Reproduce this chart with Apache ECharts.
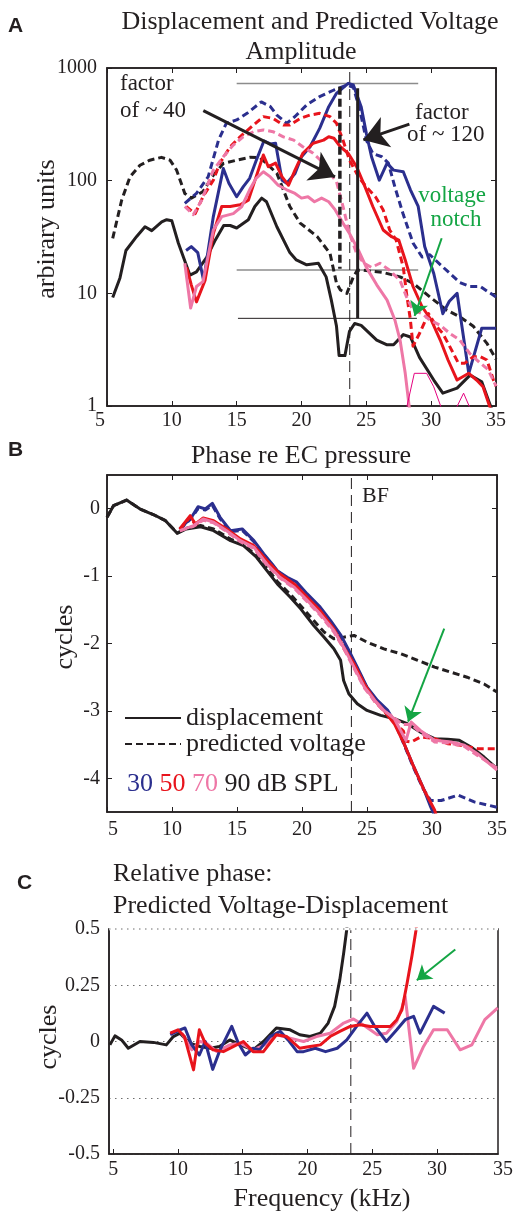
<!DOCTYPE html>
<html><head><meta charset="utf-8">
<script src="https://cdn.jsdelivr.net/npm/echarts@6/dist/echarts.min.js"></script>
<style>html,body{margin:0;padding:0;background:#fff}#c{width:514px;height:1214px}</style>
</head><body><div id="c"></div>
<script>
// ---------- DATA ----------
const xTicksAB = [5, 10, 15, 20, 25, 30, 35];
const xTicksC = [5, 10, 15, 20, 25, 30];
const yTicksB = [-4, -3, -2, -1, 0];
const xRangeC = [4.67, 34.72];
const yRangeC = [-0.5, 0.5];

// Panel A: amplitude (arbitrary units), [kHz, value]
const ampBlackVolt = [[5.44,30.8],[6.13,67],[6.77,108],[7.54,137],[8.3,152],[9.2,161],[9.86,152],[10.37,124],[11.0,77],[11.5,70],[12.4,80],[13.2,112],[13.97,142],[15.0,152],[16.0,161],[16.8,160],[17.57,133],[18.1,116],[18.6,83],[19.1,59],[19.9,42],[21.2,32],[22.2,22.6],[22.7,12.3],[23.0,10.7],[23.5,10],[24.0,14],[24.3,16],[24.8,16],[26.3,15.3],[27.6,14],[28.6,12.3],[29.9,9.3],[31.2,7.1],[32.2,6.2],[33.25,5.1],[34.3,3.6],[35,2.6]];
const ampBlackDisp = [[5.44,9.2],[6.0,13.7],[6.46,24],[7.29,32],[7.93,39],[8.45,36],[9.22,43],[9.6,45],[10.0,44],[10.5,28],[11.4,14.5],[11.9,15.5],[12.7,21],[13.3,29],[14.0,40],[14.5,40],[15.0,38],[15.9,45],[16.4,59],[16.93,70],[17.3,65],[18.1,39],[19.1,23],[19.6,19.8],[20.4,17.9],[21.3,18.5],[21.9,14],[22.3,8.7],[22.7,5.1],[22.9,2.8],[23.35,2.8],[23.7,4.6],[24.1,5.4],[24.6,5.2],[25.8,3.85],[26.56,3.5],[27.1,3.5],[27.85,4.3],[28.4,4.1],[29.1,2.7],[30.2,1.7],[30.9,1.3],[32.0,1.44],[33.0,1.88],[33.9,1.64],[34.5,1.06],[35,0.75]];
const ampBlueVolt = [[11.0,63],[11.9,77],[12.8,108],[13.6,229],[14.2,323],[15.0,346],[15.8,396],[16.9,500],[17.6,454],[18.1,382],[18.86,323],[19.5,371],[20.4,470],[21.4,557],[22.5,638],[23.5,707],[24.0,675],[24.5,425],[25.0,229],[25.5,174],[26.2,163],[26.7,143],[27.2,88],[27.85,50],[28.6,28],[29.3,21],[29.9,22],[30.7,18],[31.45,15],[32.2,12.5],[33.0,11.5],[33.8,11.5],[34.3,10.5],[35,9.3]];
const ampBlueDisp = [[11.1,24],[11.5,26],[12.0,23],[12.45,13],[13.2,48],[13.97,128],[14.4,95],[15.0,72],[15.5,88],[16.0,105],[16.5,150],[17.1,225],[17.6,212],[18.0,215],[18.5,101],[18.86,95],[19.5,116],[20.0,163],[20.66,200],[21.4,291],[22.1,454],[22.7,596],[23.6,731],[24.0,707],[24.6,454],[25.0,263],[25.4,163],[26.0,101],[26.6,143],[27.1,124],[27.85,120],[28.4,83],[29.0,59],[29.5,26],[30.2,15],[30.9,6.6],[31.4,8.5],[32.0,10],[32.9,1.95],[33.9,4.9],[35,4.9]];
const ampRedVolt = [[11.1,59],[11.8,51],[12.4,72],[13.2,101],[13.7,143],[14.5,200],[15.26,245],[16.3,312],[17.06,370],[17.8,357],[18.6,312],[19.1,312],[19.9,357],[20.66,382],[21.4,396],[22.2,370],[22.7,323],[23.2,229],[23.7,152],[24.4,108],[25.0,88],[25.7,72],[26.3,55],[26.8,36.5],[27.3,29.7],[27.85,17],[28.1,10],[28.4,5.8],[28.6,3.4],[29.1,4.4],[29.8,6.6],[30.4,5.1],[30.9,4.4],[31.6,3.1],[32.1,2.4],[32.6,2.4],[33.25,2.74],[33.8,2.74],[34.3,2.56],[34.8,1.7],[35,1.5]];
const ampRedDisp = [[11.14,17],[11.5,11.9],[11.9,8.4],[12.56,13],[13.2,34],[13.85,59],[14.5,59],[15.26,61],[15.9,67],[16.5,108],[17.06,169],[17.44,133],[18.0,143],[18.5,108],[19.0,91],[19.5,124],[20.1,175],[20.9,215],[21.7,229],[22.1,245],[22.5,238],[23.0,200],[23.6,175],[24.25,133],[24.9,88],[25.5,59],[26.3,36.5],[26.95,31.8],[27.5,29.7],[28.0,19.8],[28.6,11.5],[29.3,7.6],[30.0,5.8],[30.7,3.85],[31.3,2.56],[32.0,1.7],[32.9,1.95],[33.5,1.7],[34.0,1.48],[34.5,1.0],[35,0.7]];
const ampPinkVolt = [[11.0,59],[11.66,50],[12.3,67],[13.2,124],[13.97,163],[14.74,207],[15.5,245],[16.3,272],[17.06,282],[17.8,272],[18.6,245],[19.4,229],[20.1,200],[20.9,175],[21.7,143],[22.3,112],[22.7,98],[23.2,59],[23.7,34],[24.25,22.6],[24.8,18.5],[25.4,17],[26.05,18.5],[26.8,16],[27.6,13],[28.1,9.3],[28.6,7.1],[29.3,6.6],[29.9,5.8],[30.7,5.2],[31.45,4.4],[32.2,3.85],[33.0,2.9],[33.8,2.4],[34.4,2.1],[35,1.5]];
const ampPinkDisp = [[11.0,18.5],[11.45,7.4],[11.9,11.5],[12.4,12.7],[13.2,36.5],[13.85,48],[14.74,51],[15.4,59],[16.0,83],[16.5,105],[17.06,120],[17.6,108],[18.2,91],[18.86,83],[19.5,77],[20.0,70],[20.5,72],[21.0,65],[21.55,70],[22.1,65],[22.6,55],[23.2,42],[23.7,34],[24.4,24],[25.0,17],[25.8,11.9],[26.6,8.7],[27.2,5.8],[27.6,3.85],[28.0,1.95],[28.3,1.0],[28.5,0.6]];
const ampMagentaThin = [[28.05,0.9],[28.7,1.95],[29.65,1.95],[30.2,1.48],[30.8,0.95],[31.6,0.8],[32.5,1.3],[33.1,0.9]];

// Panel A annotations (data coordinates)
const refTopA = [[15,730],[29,730]];
const refMidA = [[15,16.1],[29,16.1]];
const refLowA = [[15.1,6.0],[28.9,6.0]];
const spanVoltA = [[22.96,680],[22.96,16.5]];
const spanDispA = [[24.33,660],[24.33,6.0]];
const arrowFactor40 = [[12.43,418],[22.58,108]];
const arrowFactor120 = [[28.32,318],[24.77,230]];
const arrowNotchA = [[30.81,30.8],[28.72,6.3]];
const bfA = [[23.72,1],[23.72,1000]];

// Panel B: phase re EC pressure (cycles)
const phBlackDisp = [[5.0,-0.128],[5.5,0.044],[6.5,0.128],[7.55,-0.005],[8.6,-0.09],[9.5,-0.178],[10.4,-0.365],[11.1,-0.30],[12.2,-0.267],[13.2,-0.326],[14.5,-0.474],[15.5,-0.548],[16.5,-0.72],[17.3,-0.919],[18.1,-1.116],[19.1,-1.314],[19.9,-1.486],[20.9,-1.733],[21.7,-1.906],[22.45,-2.079],[22.97,-2.25],[23.2,-2.548],[23.6,-2.746],[24.25,-2.894],[25.0,-2.993],[26.05,-3.067],[27.1,-3.116],[28.1,-3.19],[29.1,-3.314],[30.2,-3.412],[31.2,-3.42],[32.1,-3.437],[33.0,-3.536],[34.0,-3.684],[35.0,-3.857]];
const phBlackVolt = [[5.0,-0.128],[5.5,0.044],[6.5,0.128],[7.55,-0.005],[8.6,-0.09],[9.5,-0.178],[10.4,-0.36],[11.1,-0.29],[12.2,-0.25],[13.2,-0.30],[14.5,-0.45],[15.5,-0.53],[16.5,-0.70],[17.3,-0.88],[18.1,-1.08],[19.1,-1.27],[19.9,-1.44],[20.9,-1.66],[21.7,-1.83],[22.45,-1.93],[23.2,-1.906],[24.0,-1.88],[25.0,-1.98],[26.3,-2.08],[27.6,-2.153],[28.9,-2.25],[30.2,-2.35],[31.45,-2.425],[32.7,-2.5],[34.0,-2.6],[35.0,-2.72]];
const phBlueVolt = [[10.6,-0.31],[11.5,-0.14],[12.0,0.0],[12.56,-0.02],[13.1,0.05],[13.7,-0.15],[14.5,-0.34],[15.4,-0.32],[16.3,-0.49],[17.06,-0.68],[17.7,-0.84],[18.1,-0.93],[18.86,-1.03],[19.6,-1.11],[20.4,-1.28],[21.4,-1.48],[22.2,-1.68],[23.0,-1.9],[23.6,-2.12],[24.25,-2.37],[25.0,-2.66],[25.8,-2.86],[26.6,-3.01],[27.2,-3.2],[27.85,-3.5],[28.6,-3.85],[29.3,-4.15],[29.9,-4.33],[30.7,-4.33],[32.0,-4.25],[33.25,-4.35],[35,-4.43]];
const phBlueDisp = [[10.6,-0.30],[11.5,-0.128],[12.0,0.03],[12.56,-0.005],[13.1,0.08],[13.7,-0.128],[14.5,-0.326],[15.4,-0.30],[16.3,-0.474],[17.06,-0.67],[17.7,-0.82],[18.1,-0.919],[18.86,-1.017],[19.6,-1.09],[20.4,-1.264],[21.4,-1.46],[22.2,-1.66],[23.0,-1.88],[23.6,-2.1],[24.25,-2.35],[25.0,-2.647],[25.8,-2.844],[26.6,-2.993],[27.2,-3.19],[27.85,-3.486],[28.6,-3.832],[29.3,-4.13],[29.9,-4.425],[30.3,-4.6]];
const phRedVolt = [[10.6,-0.31],[11.4,-0.12],[11.8,-0.24],[12.4,-0.15],[13.2,-0.19],[14.2,-0.31],[15.26,-0.46],[16.3,-0.56],[17.3,-0.78],[18.3,-0.98],[19.4,-1.13],[20.4,-1.33],[21.4,-1.53],[22.45,-1.8],[23.2,-2.07],[24.0,-2.32],[24.8,-2.62],[25.6,-2.86],[26.3,-3.0],[27.1,-3.17],[27.8,-3.3],[28.0,-3.45],[28.4,-3.462],[29.1,-3.388],[30.2,-3.41],[31.2,-3.486],[32.2,-3.511],[33.5,-3.56],[35,-3.56]];
const phRedDisp = [[10.6,-0.30],[11.4,-0.104],[11.8,-0.227],[12.4,-0.138],[13.2,-0.178],[14.2,-0.30],[15.26,-0.449],[16.3,-0.548],[17.3,-0.77],[18.3,-0.968],[19.4,-1.116],[20.4,-1.314],[21.4,-1.511],[22.45,-1.783],[23.2,-2.054],[24.0,-2.3],[24.8,-2.6],[25.6,-2.844],[26.3,-2.993],[27.1,-3.19],[27.85,-3.486],[28.6,-3.832],[29.4,-4.178],[30.2,-4.47],[30.4,-4.6]];
const phPinkVolt = [[10.6,-0.33],[11.66,-0.26],[12.4,-0.17],[13.2,-0.21],[14.2,-0.34],[15.26,-0.49],[16.3,-0.59],[17.3,-0.84],[18.3,-1.03],[19.4,-1.18],[20.4,-1.38],[21.4,-1.58],[22.45,-1.83],[23.2,-2.07],[24.0,-2.37],[24.8,-2.66],[25.6,-2.86],[26.3,-3.0],[27.1,-3.1],[27.7,-3.2],[28.4,-3.2],[29.1,-3.32],[30.2,-3.46],[31.45,-3.48],[32.5,-3.53],[33.5,-3.66],[35,-3.85]];
const phPinkDisp = [[10.6,-0.326],[11.66,-0.25],[12.4,-0.153],[13.2,-0.2],[14.2,-0.326],[15.26,-0.474],[16.3,-0.573],[17.3,-0.82],[18.3,-1.017],[19.4,-1.165],[20.4,-1.36],[21.4,-1.56],[22.45,-1.807],[23.2,-2.054],[24.0,-2.35],[24.8,-2.647],[25.6,-2.844],[26.3,-2.993],[27.1,-3.116],[28.0,-3.437],[28.4,-3.165],[29.1,-3.29],[30.2,-3.437],[31.45,-3.462],[32.5,-3.51],[33.5,-3.635],[35,-3.88]];
const arrowB = [[30.94,-1.78],[28.16,-3.16]];
const bfB = [[23.8,-4.5],[23.8,0.5]];

// Panel C: relative phase, predicted voltage - displacement (cycles)
const relBlack = [[4.74,-0.015],[5.13,0.025],[5.64,0.007],[6.16,-0.03],[7.06,0],[8.1,-0.004],[9.1,-0.015],[9.64,0.022],[10.15,0.037],[10.9,-0.007],[11.7,-0.022],[12.5,-0.03],[13.2,-0.022],[14.0,0.007],[14.8,-0.015],[15.8,-0.037],[16.6,0],[17.6,0.06],[18.66,0.052],[19.4,0.03],[20.2,0.022],[21.0,0.037],[21.6,0.082],[22.1,0.156],[22.5,0.275],[22.8,0.394],[23.04,0.5],[23.2,0.65]];
const relPink = [[10.3,0.037],[11.06,-0.037],[11.7,0],[12.2,-0.007],[13.0,-0.045],[14.0,-0.015],[14.8,-0.007],[15.8,-0.037],[16.7,-0.015],[17.6,0.03],[18.66,0.015],[19.7,0],[20.7,0.022],[21.75,0.037],[22.8,0.082],[23.55,0.1],[24.3,0.074],[25.4,0.03],[26.1,0.037],[26.9,0.089],[27.3,0.15],[27.55,0.2],[28.2,-0.119],[28.97,-0.022],[29.74,0.052],[30.8,0.052],[31.8,-0.037],[32.7,-0.015],[33.7,0.097],[34.7,0.149]];
const relBlue = [[9.4,0.03],[10.15,0.052],[10.54,0.06],[11.06,-0.015],[11.65,-0.06],[12.1,0],[12.68,-0.124],[13.25,-0.037],[14.15,0.067],[14.66,-0.007],[15.2,-0.06],[15.8,-0.03],[16.3,-0.037],[17.1,0.022],[17.9,0.045],[18.5,0.007],[19.2,-0.045],[19.7,-0.045],[20.6,-0.03],[21.4,-0.045],[22.3,-0.03],[23.04,0.007],[23.8,0.067],[24.6,0.126],[25.2,0.067],[26.1,0],[26.9,0.052],[27.55,0.097],[28.2,0.112],[28.7,0.037],[29.74,0.156],[30.6,0.126]];
const relRed = [[9.4,0.037],[10.0,0.052],[10.5,0.022],[11.2,-0.126],[11.65,0.052],[12.1,-0.007],[12.7,-0.037],[13.5,-0.045],[14.3,-0.022],[15.05,0],[15.8,-0.045],[16.6,-0.045],[17.6,0.03],[18.4,0.022],[19.4,-0.03],[20.2,-0.022],[21.0,-0.015],[21.75,0.022],[22.5,0.045],[23.3,0.067],[24.07,0.074],[24.85,0.067],[25.6,0.067],[26.4,0.067],[26.9,0.097],[27.3,0.141],[27.7,0.26],[28.07,0.38],[28.4,0.5],[28.6,0.65]];
const arrowC = [[31.42,0.409],[28.45,0.272]];
const bfC = [[23.35,-0.5],[23.35,0.5]];

// ---------- STYLE ----------
const FONT = "'Liberation Serif','Times New Roman',serif";
const SANS = "'Liberation Sans',Arial,sans-serif";
const INK = '#231f20', BLUE = '#2b2f8e', RED = '#e8141c', PINK = '#ee77a6', GREEN = '#14a544', MAG = '#e4007f', GRAY = '#8c8c8c', DOT = '#6d6d6d';
const DASH = [7, 4];

function ln(name, data, xi, yi, color, dashed, width, z) {
  return {type:'line', name, data, xAxisIndex:xi, yAxisIndex:yi, symbol:'none', showSymbol:false,
    clip:true, silent:true, z: z || 2,
    lineStyle:{color, width: width || 3, type: dashed ? DASH : 'solid', join:'round'},
    itemStyle:{color}};
}
function arrowMark(pts, color, width, size) {
  return {silent:true, symbol:['none','arrow'], symbolSize:size, label:{show:false},
    lineStyle:{color, width, type:'solid'}, itemStyle:{color}, emphasis:{disabled:true},
    data:[[{coord:pts[0]},{coord:pts[1]}]]};
}
const tick = () => ({show:true, inside:true, length:5, lineStyle:{color:INK, width:1}});
const axl = () => ({show:true, onZero:false, lineStyle:{color:INK, width:1.5}});
const lab = (extra) => Object.assign({fontFamily:FONT, fontSize:20, color:INK}, extra);

const option = {
  animation:false,
  backgroundColor:'#fff',
  grid:[
    {left:107, top:68, width:389, height:338, show:true, borderColor:INK, borderWidth:1.5, backgroundColor:'transparent', outerBoundsMode:'none', containLabel:false},
    {left:107, top:475, width:390, height:337, show:true, borderColor:INK, borderWidth:1.5, backgroundColor:'transparent', outerBoundsMode:'none', containLabel:false},
    {left:109, top:929, width:389, height:225, show:true, borderColor:INK, borderWidth:1.5, backgroundColor:'transparent', outerBoundsMode:'none', containLabel:false}
  ],
  xAxis:[
    {gridIndex:0, type:'value', min:5, max:35, interval:5, axisLine:axl(), axisTick:tick(), splitLine:{show:false},
      axisLabel:lab({margin:5, formatter:v => v===5 ? '{s|5}' : String(v), rich:{s:{fontFamily:FONT, fontSize:20, color:INK, padding:[0,14,0,0]}}})},
    {gridIndex:0, type:'value', position:'top', min:5, max:35, interval:5, axisLine:axl(), axisTick:tick(), splitLine:{show:false}, axisLabel:{show:false}},
    {gridIndex:1, type:'value', min:5, max:35, interval:5, axisLine:axl(), axisTick:tick(), splitLine:{show:false},
      axisLabel:lab({margin:8, formatter:v => v===5 ? '{s|5}' : String(v), rich:{s:{fontFamily:FONT, fontSize:20, color:INK, padding:[0,0,0,12]}}})},
    {gridIndex:1, type:'value', position:'top', min:5, max:35, interval:5, axisLine:axl(), axisTick:tick(), splitLine:{show:false}, axisLabel:{show:false}},
    {gridIndex:2, type:'value', min:xRangeC[0], max:xRangeC[1], axisLine:axl(),
      axisTick:Object.assign(tick(), {customValues:xTicksC}), splitLine:{show:false},
      axisLabel:lab({margin:6, customValues:xTicksC, formatter:v => String(v)})}
  ],
  yAxis:[
    {gridIndex:0, type:'log', logBase:10, min:1, max:1000, axisLine:axl(), axisTick:tick(), minorTick:{show:false}, splitLine:{show:false},
      axisLabel:lab({margin:10, formatter:v => String(Math.round(v))})},
    {gridIndex:0, type:'log', logBase:10, min:1, max:1000, position:'right', axisLine:axl(), axisTick:tick(), splitLine:{show:false}, axisLabel:{show:false}},
    {gridIndex:1, type:'value', min:-4.5, max:0.5, axisLine:axl(), splitLine:{show:false},
      axisTick:Object.assign(tick(), {customValues:yTicksB}),
      axisLabel:lab({margin:7, customValues:yTicksB, formatter:v => String(v)})},
    {gridIndex:1, type:'value', min:-4.5, max:0.5, position:'right', axisLine:axl(), splitLine:{show:false},
      axisTick:Object.assign(tick(), {customValues:yTicksB}), axisLabel:{show:false}},
    {gridIndex:2, type:'value', min:yRangeC[0], max:yRangeC[1], interval:0.25, axisLine:axl(), axisTick:{show:false},
      splitLine:{show:true, lineStyle:{color:DOT, width:1, type:[1.5,4.5]}},
      axisLabel:lab({margin:9, formatter:v => String(v)})}
  ],
  legend:{show:true, selectedMode:false, orient:'vertical', left:119, top:700, itemWidth:56, itemHeight:12, itemGap:0,
    itemStyle:{opacity:0},
    data:[{name:'displacement'},{name:'predicted voltage'}],
    textStyle:{fontFamily:FONT, fontSize:26, color:INK}},
  series:[
    // ----- Panel A -----
    ln('refTop', refTopA, 0, 0, GRAY, false, 1.5, 1),
    ln('refMid', refMidA, 0, 0, GRAY, false, 1.5, 1),
    ln('refLow', refLowA, 0, 0, INK, false, 1, 1),
    ln('bfA', bfA, 0, 0, INK, false, 1, 1),
    ln('predicted voltage', ampBlackVolt, 0, 0, INK, true, 3),
    ln('displacement', ampBlackDisp, 0, 0, INK, false, 3),
    ln('30 dB voltage A', ampBlueVolt, 0, 0, BLUE, true, 3),
    ln('30 dB disp A', ampBlueDisp, 0, 0, BLUE, false, 3),
    ln('50 dB voltage A', ampRedVolt, 0, 0, RED, true, 3),
    ln('50 dB disp A', ampRedDisp, 0, 0, RED, false, 3),
    ln('70 dB voltage A', ampPinkVolt, 0, 0, PINK, true, 3),
    ln('70 dB disp A', ampPinkDisp, 0, 0, PINK, false, 3),
    ln('thin A', ampMagentaThin, 0, 0, MAG, false, 1),
    Object.assign(ln('spanVolt', spanVoltA, 0, 0, INK, false, 3.5, 5), {lineStyle:{color:INK, width:3.5, type:[8,4]}}),
    Object.assign(ln('spanDisp', spanDispA, 0, 0, INK, false, 3, 5), {markLine:arrowMark(arrowFactor40, INK, 3, 24)}),
    Object.assign(ln('spanDisp2', [], 0, 0, INK, false, 3, 5), {markLine:arrowMark(arrowFactor120, INK, 3, 24)}),
    Object.assign(ln('notchA', [], 0, 0, GREEN, false, 2, 5), {markLine:arrowMark(arrowNotchA, GREEN, 2, 14)}),
    // ----- Panel B -----
    ln('bfB', bfB, 2, 2, INK, false, 1, 1),
    ln('predicted voltage', phBlackVolt, 2, 2, INK, true, 3),
    ln('displacement', phBlackDisp, 2, 2, INK, false, 3),
    ln('30 dB voltage B', phBlueVolt, 2, 2, BLUE, true, 3),
    ln('30 dB disp B', phBlueDisp, 2, 2, BLUE, false, 3),
    ln('50 dB voltage B', phRedVolt, 2, 2, RED, true, 3),
    ln('50 dB disp B', phRedDisp, 2, 2, RED, false, 3),
    ln('70 dB voltage B', phPinkVolt, 2, 2, PINK, true, 3),
    ln('70 dB disp B', phPinkDisp, 2, 2, PINK, false, 3),
    Object.assign(ln('arrowB', [], 2, 2, GREEN, false, 2, 5), {markLine:arrowMark(arrowB, GREEN, 2, 14)}),
    // ----- Panel C -----
    ln('bfC', bfC, 4, 4, INK, false, 1, 1),
    ln('90 dB rel', relBlack, 4, 4, INK, false, 3),
    ln('70 dB rel', relPink, 4, 4, PINK, false, 3),
    ln('30 dB rel', relBlue, 4, 4, BLUE, false, 3),
    ln('50 dB rel', relRed, 4, 4, RED, false, 3),
    // open top edge of panel C: white mask over the frame, then the dotted grid line
    Object.assign(ln('C top mask', [[xRangeC[0], yRangeC[1]], [xRangeC[1], yRangeC[1]]], 4, 4, '#ffffff', false, 2.5, 7), {clip:false}),
    Object.assign(ln('C top dotted', [[xRangeC[0], yRangeC[1]], [xRangeC[1], yRangeC[1]]], 4, 4, DOT, false, 1, 8), {clip:false}),
    Object.assign(ln('arrowC', [], 4, 4, GREEN, false, 2, 5), {markLine:arrowMark(arrowC, GREEN, 2, 14)})
  ],
  graphic:[]
};
// dashed BF lines, dotted top of C
['bfA','bfB','bfC'].forEach(n => { const s = option.series.find(x => x.name === n); s.lineStyle.type = [11,6]; });
option.series.find(x => x.name === 'C top dotted').lineStyle.type = [1.5,4.5];

function txt(text, x, y, size, opts) {
  opts = opts || {};
  const e = {type:'text', x, y, silent:true, z:100, rotation: opts.rot || 0,
    style:{text, font:(opts.bold ? 'bold ' : '') + size + 'px ' + (opts.family || FONT), fill: opts.color || INK,
      align: opts.align || 'center', verticalAlign:'middle', textAlign: opts.align || 'center', textVerticalAlign:'middle'}};
  if (opts.rich) e.style.rich = opts.rich;
  return e;
}
const R = (c) => ({fill:c, font:'26px ' + FONT});
option.graphic = [
  txt('A', 8, 26, 21, {bold:true, family:SANS, align:'left'}),
  txt('B', 8, 450, 21, {bold:true, family:SANS, align:'left'}),
  txt('C', 17, 883, 21, {bold:true, family:SANS, align:'left'}),
  txt('Displacement and Predicted Voltage', 310, 22, 26),
  txt('Amplitude', 301, 52, 26),
  txt('arbirary units', 47, 229, 26, {rot:Math.PI/2}),
  txt('factor', 120, 84, 23, {align:'left'}),
  txt('of ~ 40', 120, 110.5, 23, {align:'left'}),
  txt('factor', 415, 113, 23, {align:'left'}),
  txt('of ~ 120', 407, 135, 23, {align:'left'}),
  txt('voltage', 452, 195.5, 23, {color:GREEN}),
  txt('notch', 456, 219.5, 23, {color:GREEN}),
  txt('Phase re EC pressure', 301, 456, 26),
  txt('BF', 362, 496, 22, {align:'left'}),
  txt('cycles', 65, 637, 26, {rot:Math.PI/2}),
  txt('{b|30} {r|50} {p|70} {k|90 dB SPL}', 127, 784.5, 26, {align:'left', rich:{b:R(BLUE), r:R(RED), p:R(PINK), k:R(INK)}}),
  txt('Relative phase:', 113, 874, 26, {align:'left'}),
  txt('Predicted Voltage-Displacement', 113, 906, 26, {align:'left'}),
  txt('cycles', 49, 1037, 26, {rot:Math.PI/2}),
  txt('Frequency (kHz)', 322, 1199, 26),
  txt('35', 503, 1170, 20)
];

const chart = echarts.init(document.getElementById('c'), null, {renderer:'canvas', width:514, height:1214});
chart.setOption(option);
</script>
</body></html>
